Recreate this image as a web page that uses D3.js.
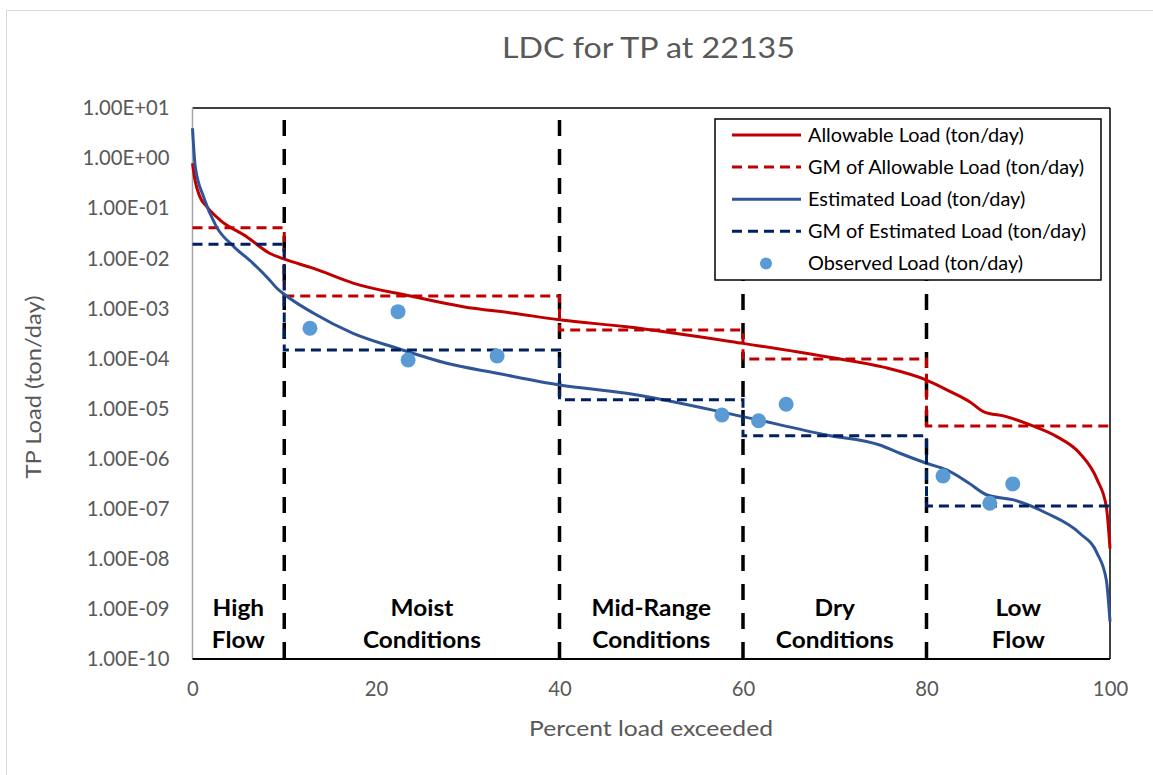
<!DOCTYPE html>
<html><head><meta charset="utf-8">
<script src="https://cdn.jsdelivr.net/npm/d3@7"></script>
<style>body{margin:0;background:#fff}svg{display:block}</style>
</head><body>
<svg id="chart" width="1153" height="775"></svg>
<script>
// ---- data ----
const allowPct  = [0, 0.27, 0.8, 1.6, 3.0, 5.9, 8.4, 10.1, 13.2, 17.5, 24.1, 29.5, 35.0, 40.0, 47.3, 60.0, 69.1, 75.3, 80.0, 82.6, 84.7, 86.2, 88.7, 91.3, 94.2, 96.7, 98.6, 99.6, 100];
const allowLoad = [7.9e-1, 3.66e-1, 1.7e-1, 1.05e-1, 5.8e-2, 2.7e-2, 1.26e-2, 9.5e-3, 6.3e-3, 3.2e-3, 1.71e-3, 1.08e-3, 8.0e-4, 5.9e-4, 4.3e-4, 2.0e-4, 1.08e-4, 6.7e-5, 3.7e-5, 2.18e-5, 1.37e-5, 8.7e-6, 6.9e-6, 4.7e-6, 2.75e-6, 1.28e-6, 3.8e-7, 1.1e-7, 1.6e-8];
const estPct  = [0, 0.3, 1.2, 2.6, 4.5, 6.6, 8.4, 9.2, 10.1, 13.2, 17.5, 22.3, 27.7, 33.2, 40.0, 47.3, 60.0, 69.1, 74.9, 77.1, 80.0, 82.2, 84.6, 86.6, 89.5, 93.1, 96.7, 98.6, 99.6, 100];
const estLoad = [3.94, 6.75e-1, 1.70e-1, 4.28e-2, 1.71e-2, 7.94e-3, 3.69e-3, 2.52e-3, 1.85e-3, 7.98e-4, 3.18e-4, 1.60e-4, 8.02e-5, 5.07e-5, 2.96e-5, 2.02e-5, 6.89e-6, 2.97e-6, 1.87e-6, 1.28e-6, 8.09e-7, 5.94e-7, 3.27e-7, 1.88e-7, 1.50e-7, 8.13e-8, 3.24e-8, 1.29e-8, 3.79e-9, 5.58e-10];
const zoneBounds = [0, 10, 40, 60, 80, 100];
const gmAllow = [4.08e-2, 1.77e-3, 3.7e-4, 9.8e-5, 4.5e-6];
const gmEst   = [1.9e-2, 1.48e-4, 1.49e-5, 2.88e-6, 1.14e-7];
const obsPct  = [12.8, 22.4, 23.5, 33.2, 57.7, 61.7, 64.7, 81.8, 86.9, 89.4];
const obsLoad = [4.0e-4, 8.6e-4, 9.3e-5, 1.12e-4, 7.45e-6, 5.7e-6, 1.22e-5, 4.5e-7, 1.29e-7, 3.13e-7];
const zoneNames = [["High","Flow"],["Moist","Conditions"],["Mid-Range","Conditions"],["Dry","Conditions"],["Low","Flow"]];
const yTickValues = [1e-10,1e-9,1e-8,1e-7,1e-6,1e-5,1e-4,1e-3,1e-2,1e-1,1,10];
const yTickLabels = ["1.00E-10","1.00E-09","1.00E-08","1.00E-07","1.00E-06","1.00E-05","1.00E-04","1.00E-03","1.00E-02","1.00E-01","1.00E+00","1.00E+01"];
const xTickValues = [0,20,40,60,80,100];
const legendLabels = ["Allowable Load (ton/day)","GM of Allowable Load (ton/day)","Estimated Load (ton/day)","GM of Estimated Load (ton/day)","Observed Load (ton/day)"];

// ---- layout ----
const FONT = "Lato, 'Open Sans', sans-serif";
const L = 192.5, R = 1110, T = 108, B = 659;
const x = d3.scaleLinear().domain([0,100]).range([L,R]);
const y = d3.scaleLog().domain([1e-10,10]).range([B,T]);
const svg = d3.select("#chart");

// stretch a group of texts horizontally by the factor that gives refNode the target width
function fit(sel, refNode, target){
  const k = target / refNode.getComputedTextLength();
  sel.each(function(){
    const w = this.getComputedTextLength();
    d3.select(this).attr("textLength", w*k).attr("lengthAdjust","spacingAndGlyphs");
  });
}

svg.append("rect").attr("x",6.5).attr("y",10.5).attr("width",1170).attr("height",800)
  .attr("fill","#fff").attr("stroke","#d9d9d9").attr("stroke-width",1);

// title
const title = svg.append("text").attr("x",648.5).attr("y",58).attr("text-anchor","middle")
  .attr("font-family",FONT).attr("font-size",28).attr("fill","#595959").text("LDC for TP at 22135");
fit(title, title.node(), 293);

// y axis
const yAxis = d3.axisLeft(y).tickValues(yTickValues).tickSize(0).tickPadding(23)
  .tickFormat((d,i)=>yTickLabels[i]);
const gy = svg.append("g").attr("transform",`translate(${L},0)`).call(yAxis);
gy.select(".domain").remove();
gy.selectAll("text").attr("font-family",FONT).attr("font-size",21).attr("fill","#595959");

// x axis
const xAxis = d3.axisBottom(x).tickValues(xTickValues).tickSize(0).tickPadding(22);
const gx = svg.append("g").attr("transform",`translate(0,${B})`).call(xAxis);
gx.select(".domain").remove();
gx.selectAll("text").attr("font-family",FONT).attr("font-size",21).attr("fill","#595959").attr("dy","0.72em");

const yRef = gy.selectAll("text").filter((d)=>d===10).node();
const kTicks = 87 / yRef.getComputedTextLength();
gy.selectAll("text").each(function(){ d3.select(this).attr("textLength", this.getComputedTextLength()*kTicks).attr("lengthAdjust","spacingAndGlyphs"); });
gx.selectAll("text").each(function(){ d3.select(this).attr("textLength", this.getComputedTextLength()*kTicks).attr("lengthAdjust","spacingAndGlyphs"); });

// axis titles
const xt = svg.append("text").attr("x",651).attr("y",736).attr("text-anchor","middle")
  .attr("font-family",FONT).attr("font-size",22).attr("fill","#595959").text("Percent load exceeded");
fit(xt, xt.node(), 244);
const yt = svg.append("text").attr("transform","translate(41,387) rotate(-90)").attr("text-anchor","middle")
  .attr("font-family",FONT).attr("font-size",22).attr("fill","#595959").text("TP Load (ton/day)");
fit(yt, yt.node(), 183);

// plot frame
svg.append("line").attr("x1",L).attr("x2",R).attr("y1",T).attr("y2",T).attr("stroke","#000").attr("stroke-width",1.5);
svg.append("line").attr("x1",R).attr("x2",R).attr("y1",T).attr("y2",B).attr("stroke","#000").attr("stroke-width",1.5);
svg.append("line").attr("x1",L).attr("x2",L).attr("y1",T).attr("y2",B).attr("stroke","#a6a6a6").attr("stroke-width",1.5);

// zone dividers
svg.append("g").selectAll("line").data(zoneBounds.slice(1,-1)).join("line")
  .attr("x1",d=>x(d)).attr("x2",d=>x(d)).attr("y1",120).attr("y2",B)
  .attr("stroke","#000").attr("stroke-width",3.5).attr("stroke-dasharray","16,13");

svg.append("line").attr("x1",L).attr("x2",R).attr("y1",B).attr("y2",B).attr("stroke","#000").attr("stroke-width",2);

// zone labels
const zl = svg.append("g");
zoneNames.forEach((nm,i)=>{
  const cx = x((zoneBounds[i]+zoneBounds[i+1])/2);
  nm.forEach((t,j)=>{
    zl.append("text").attr("x",cx).attr("y",616+j*32).attr("text-anchor","middle")
      .attr("font-family",FONT).attr("font-weight","bold").attr("font-size",23).attr("fill","#000").text(t);
  });
});
fit(zl.selectAll("text"), zl.selectAll("text").filter(function(){return this.textContent==="Conditions";}).node(), 118);

// curves
const line = d3.line().x(d=>x(d[0])).y(d=>y(d[1])).curve(d3.curveMonotoneX);
const stepPts = gm => { const p=[]; gm.forEach((v,i)=>{p.push([zoneBounds[i],v]);p.push([zoneBounds[i+1],v]);}); return p; };
const lin = d3.line().x(d=>x(d[0])).y(d=>y(d[1]));

svg.append("path").datum(allowPct.map((p,i)=>[p,allowLoad[i]])).attr("d",line)
  .attr("fill","none").attr("stroke","#C00000").attr("stroke-width",3);
svg.append("path").datum(stepPts(gmAllow)).attr("d",lin)
  .attr("fill","none").attr("stroke","#C00000").attr("stroke-width",3).attr("stroke-dasharray","10,6");
svg.append("path").datum(estPct.map((p,i)=>[p,estLoad[i]])).attr("d",line)
  .attr("fill","none").attr("stroke","#2F5597").attr("stroke-width",3);
svg.append("path").datum(stepPts(gmEst)).attr("d",lin)
  .attr("fill","none").attr("stroke","#002060").attr("stroke-width",3).attr("stroke-dasharray","10,6");
svg.append("g").selectAll("circle").data(obsPct.map((p,i)=>[p,obsLoad[i]])).join("circle")
  .attr("cx",d=>x(d[0])).attr("cy",d=>y(d[1])).attr("r",7.5).attr("fill","#5B9BD5");

// legend
const lg = svg.append("g");
lg.append("rect").attr("x",715).attr("y",119).attr("width",386).attr("height",161)
  .attr("fill","#fff").attr("stroke","#000").attr("stroke-width",1.5);
const legStyles = [
  {type:"line",color:"#C00000",dash:null},
  {type:"line",color:"#C00000",dash:"10,6"},
  {type:"line",color:"#2F5597",dash:null},
  {type:"line",color:"#002060",dash:"10,6"},
  {type:"dot",color:"#5B9BD5"}
];
const lt = lg.append("g");
legendLabels.forEach((lab,i)=>{
  const yy = 135 + i*32.1;
  const s = legStyles[i];
  if (s.type==="line") {
    lg.append("line").attr("x1",732).attr("x2",801).attr("y1",yy).attr("y2",yy)
      .attr("stroke",s.color).attr("stroke-width",3).attr("stroke-dasharray",s.dash);
  } else {
    lg.append("circle").attr("cx",766).attr("cy",yy).attr("r",6).attr("fill",s.color);
  }
  lt.append("text").attr("x",808).attr("y",yy+6.5).attr("font-family",FONT).attr("font-size",18.5)
    .attr("fill","#000").text(lab);
});
fit(lt.selectAll("text"), lt.selectAll("text").nodes()[1], 276);
</script>
</body></html>
